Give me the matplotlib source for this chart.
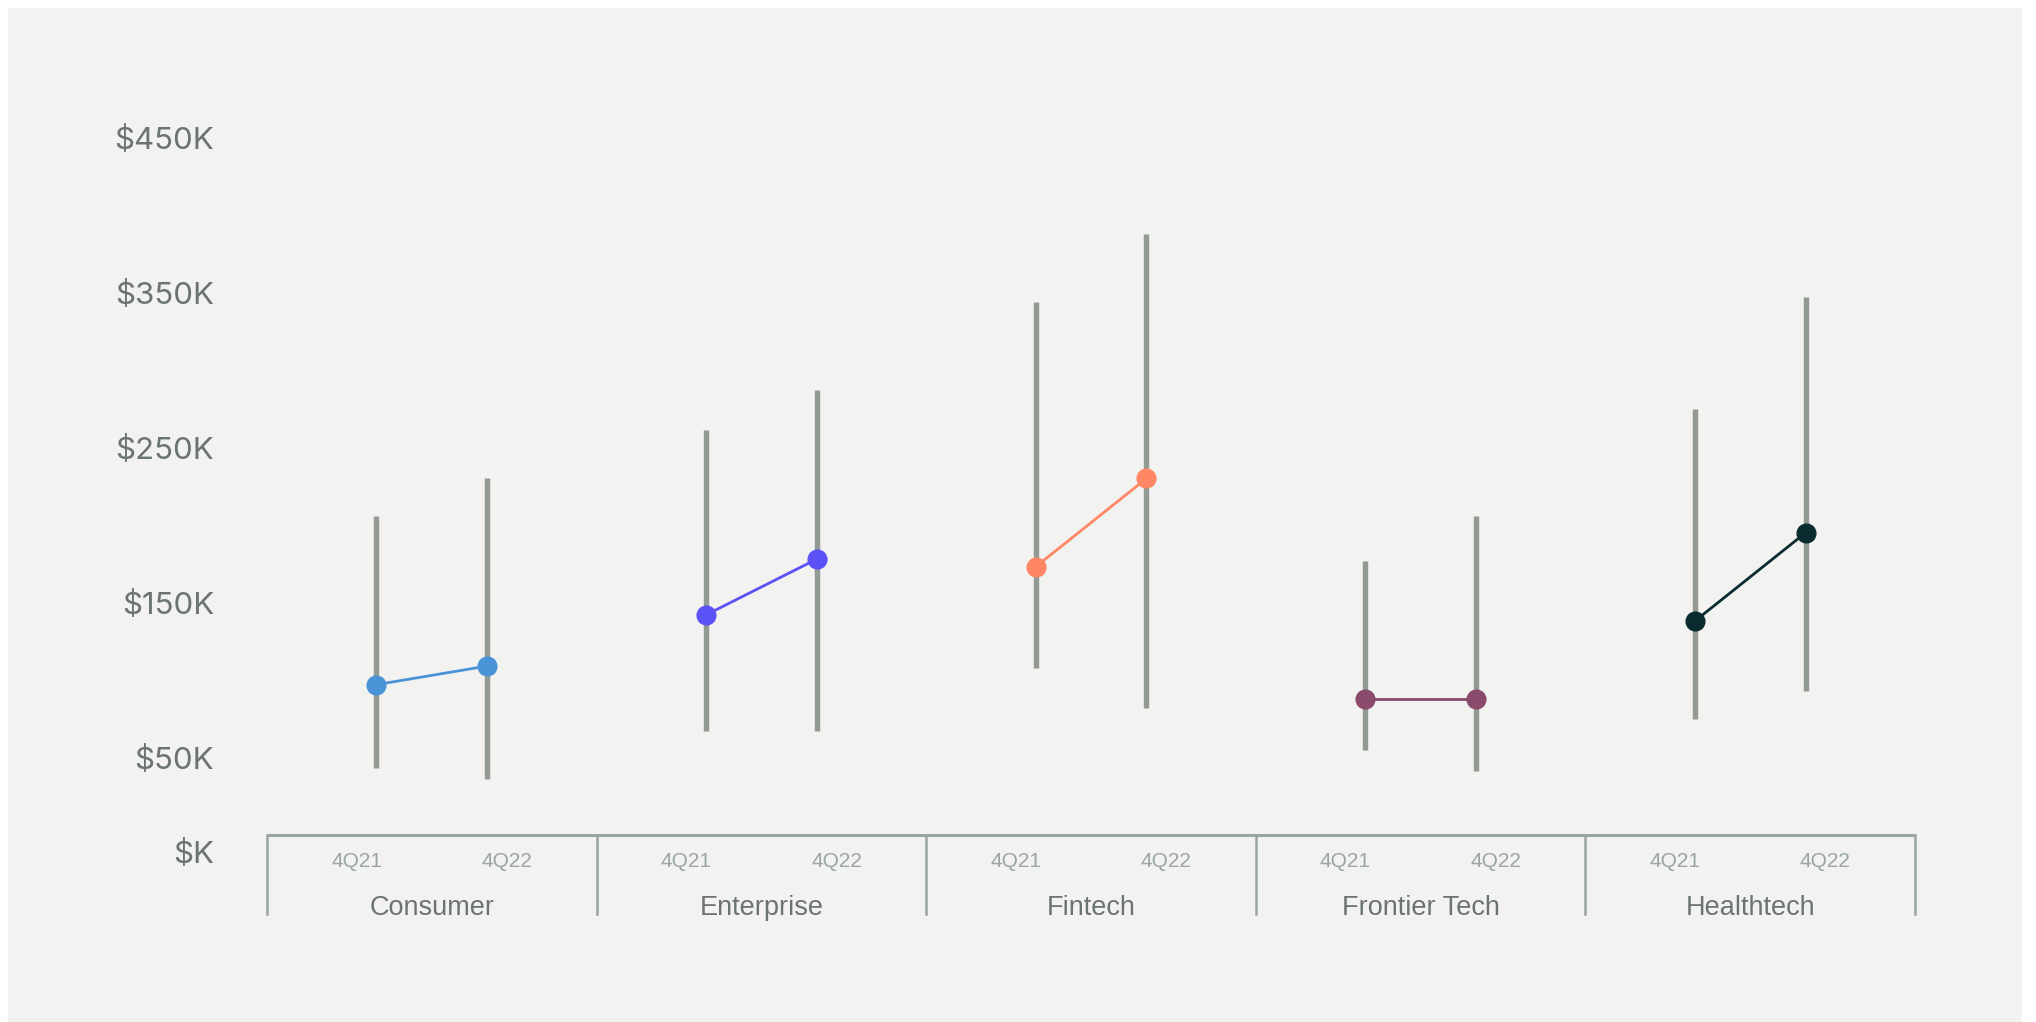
import matplotlib.pyplot as plt
import matplotlib.transforms as mtransforms
from matplotlib.patches import Rectangle

# salary ranges by sector, values in $K
categories = ["Consumer", "Enterprise", "Fintech", "Frontier Tech", "Healthtech"]
periods = ["4Q21", "4Q22"]
median_21 = [97, 142, 173, 88, 138]
median_22 = [109, 178, 230, 88, 195]
low_21 = [43, 67, 108, 55, 75]
high_21 = [206, 261, 344, 177, 275]
low_22 = [36, 67, 82, 41, 93]
high_22 = [230, 287, 388, 206, 347]
colors = ["#4a93d6", "#5b52f5", "#ff8766", "#8a4a6c", "#0a2b2f"]

ytick_values = [0, 50, 150, 250, 350, 450]
ytick_labels = ["$K", "$50K", "$150K", "$250K", "$350K", "$450K"]

BG = "#f2f2f0"
RANGE_GRAY = "#939a94"
AXIS_GRAY = "#99a4a5"
TEXT_GRAY = "#6b7472"

W, H = 2036, 1022
fig = plt.figure(figsize=(W / 100, H / 100), dpi=100, facecolor="white")
fig.patches.append(Rectangle((8 / W, 0), (2022 - 8) / W, (1022 - 8) / H,
                             transform=fig.transFigure, facecolor=BG,
                             edgecolor="none", zorder=-10))

ax = fig.add_axes([267 / W, (H - 835) / H, (1915 - 267) / W, 775 / H])
ax.set_facecolor("none")
ax.set_xlim(-0.5, 4.5)
ax.set_ylim(0, 500)

dx_point = 0.168
dx_label = 0.228

for i, cat in enumerate(categories):
    x1, x2 = i - dx_point, i + dx_point
    ax.vlines([x1, x2], [low_21[i], low_22[i]], [high_21[i], high_22[i]],
              color=RANGE_GRAY, linewidth=3.9, zorder=1)
    ax.plot([x1, x2], [median_21[i], median_22[i]], color=colors[i],
            linewidth=2.0, marker="o", markersize=13.5, zorder=3)

# category axis with group separators
xt = ax.get_xaxis_transform()
ax.plot([-0.5, 4.5], [0, 0], color=AXIS_GRAY, linewidth=2.2, transform=xt,
        clip_on=False, solid_capstyle="butt")
for b in range(len(categories) + 1):
    ax.plot([b - 0.5, b - 0.5], [0, -0.102], color=AXIS_GRAY, linewidth=1.8,
            transform=xt, clip_on=False)
for i, cat in enumerate(categories):
    for j, p in enumerate(periods):
        ax.text(i + (j * 2 - 1) * dx_label, -0.034, p, transform=xt,
                ha="center", va="center", fontsize=15, color="#9aa5a5",
                family="Liberation Sans")
    ax.text(i, -0.094, cat, transform=xt, ha="center", va="center",
            fontsize=19.5, color=TEXT_GRAY, family="Liberation Sans")

ax.set_xticks([])
ax.set_yticks(ytick_values)
ax.set_yticklabels(ytick_labels, fontsize=22.5, color=TEXT_GRAY, family="Inter")
ax.tick_params(axis="y", length=0, pad=38)
for s in ax.spines.values():
    s.set_visible(False)

# the $K label sits a little below the baseline in the original
lab0 = ax.get_yticklabels()[0]
lab0.set_transform(lab0.get_transform() + mtransforms.ScaledTranslation(0, -16 / 100, fig.dpi_scale_trans))

fig.savefig("out.png", dpi=100, facecolor="white")
